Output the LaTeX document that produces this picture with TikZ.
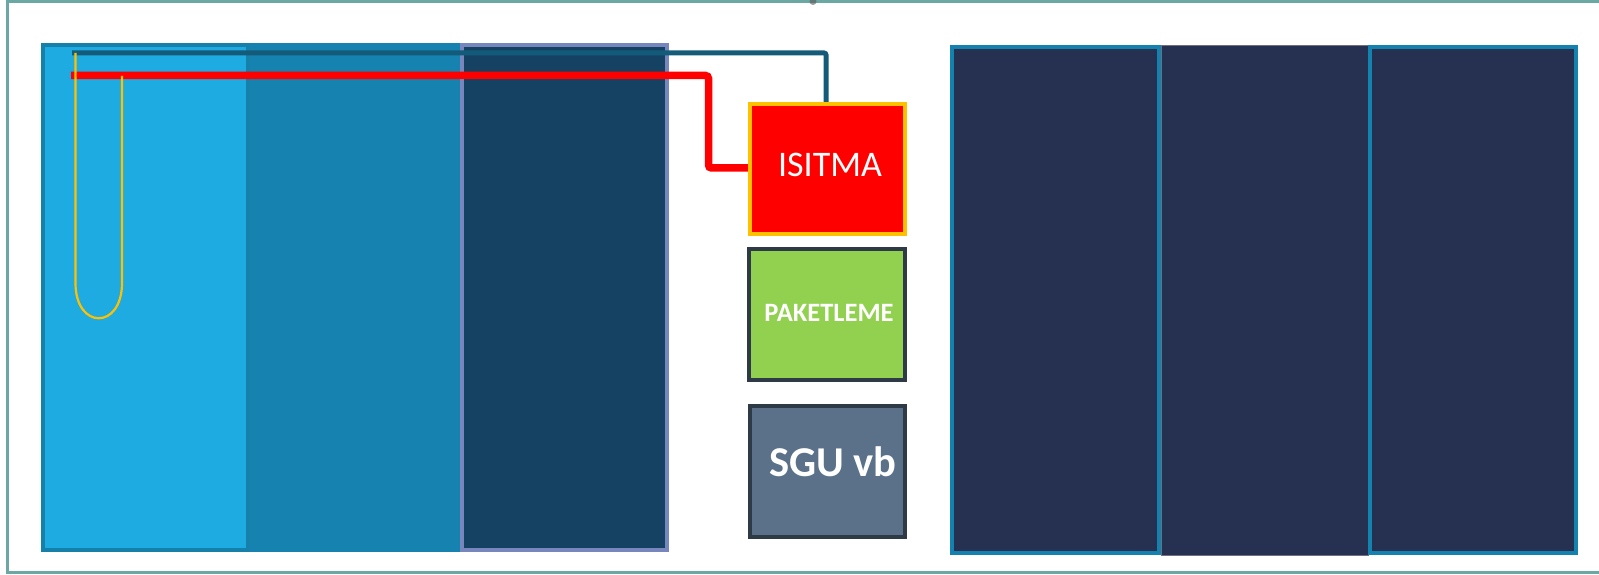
\documentclass[tikz,border=0pt]{standalone}
\usepackage{fontspec}
\setmainfont{Carlito}
\definecolor{framec}{HTML}{6BA8A3}
\definecolor{tankA}{HTML}{1EABE2}
\definecolor{tankAb}{HTML}{1580AA}
\definecolor{tankB}{HTML}{1682B0}
\definecolor{tankC}{HTML}{154263}
\definecolor{tankCb}{HTML}{7787BD}
\definecolor{darkbox}{HTML}{263050}
\definecolor{darkboxb}{HTML}{1382AE}
\definecolor{midgray}{HTML}{6E7080}
\definecolor{pipeteal}{HTML}{135B79}
\definecolor{heatyellow}{HTML}{FFC000}
\definecolor{pkgreen}{HTML}{92D050}
\definecolor{sgugray}{HTML}{5A7189}
\definecolor{edgedark}{HTML}{2E3B47}
\begin{document}
\begin{tikzpicture}[x=1pt,y=-1pt,
  boxbase/.style={inner sep=0pt, outer sep=0pt, anchor=north west},
  tank/.style={boxbase, draw, line width=4pt},
  unitbox/.style={inner sep=0pt, outer sep=0pt, draw, line width=4pt, minimum width=155pt, minimum height=130pt},
  unitlabel/.style={anchor=base, text=white, inner sep=0pt},
  pipeline/.style={line width=5pt, draw=pipeteal, rounded corners=2pt},
  heatline/.style={line width=7.5pt, draw=red, rounded corners=3pt},
  coilline/.style={line width=2.2pt, draw=heatyellow}]
\useasboundingbox (0,0) rectangle (1599,575);
\fill[white] (0,0) rectangle (1599,575);
% outer frame (open on the right)
\draw[framec, line width=3pt] (1599,1.5) -- (7.5,1.5) -- (7.5,572.5) -- (1599,572.5);
\fill[black!65, opacity=0.6] (813,1.5) circle (3.5);
% left tanks
\node[tank, fill=tankA, draw=tankAb, minimum width=205pt, minimum height=505pt] (t1) at (43,45) {};
\node[tank, fill=tankB, draw=tankB, line width=2pt, minimum width=208pt, minimum height=507pt] (t2) at (251,44) {};
\node[tank, fill=tankC, draw=tankCb, minimum width=205pt, minimum height=505pt] (t3) at (462,45) {};
% right tanks
\node[boxbase, fill=darkbox, draw=midgray, line width=1pt, minimum width=207pt, minimum height=509pt] (r2) at (1161,46) {};
\node[tank, fill=darkbox, draw=darkboxb, minimum width=207pt, minimum height=506pt] (r1) at (952,47) {};
\node[tank, fill=darkbox, draw=darkboxb, minimum width=206pt, minimum height=506pt] (r3) at (1370,47) {};
% unit boxes (positions)
\coordinate (isc) at (827.5,169);
% pipes
\coordinate (ts) at (72,53);
\coordinate (rs) at (71,75.5);
\coordinate (rturn) at (708.5,75.5);
\draw[pipeline] (ts) -- (826,53) -- (826,104);
\draw[heatline] (rs) -- (rturn) -- (708.5,168) -- (750,168);
% heating coil
\coordinate (cl) at (75.5,53);
\coordinate (cr) at (122,76);
\draw[coilline] (cl) -- (75.5,283) .. controls (75.5,330) and (122,330) .. (122,283) -- (cr);
% unit boxes
\node[unitbox, fill=red, draw=heatyellow] (isitma) at (isc) {};
\node[unitbox, fill=pkgreen, draw=edgedark, minimum width=156pt, minimum height=131pt] (paket) at (827,314.5) {};
\node[unitbox, fill=sgugray, draw=edgedark, minimum height=131pt] (sgu) at (827.5,471.5) {};
\node[unitlabel, font=\fontsize{36}{36}\selectfont] (isitmaL) at (830,176.5) {ISITMA};
\node[unitlabel, font=\bfseries\fontsize{26.5}{26.5}\selectfont] (paketL) at (829,321.7) {PAKETLEME};
\node[unitlabel, font=\bfseries\fontsize{42.5}{42.5}\selectfont] (sguL) at (833,476.7) {SGU vb};
\end{tikzpicture}
\end{document}
